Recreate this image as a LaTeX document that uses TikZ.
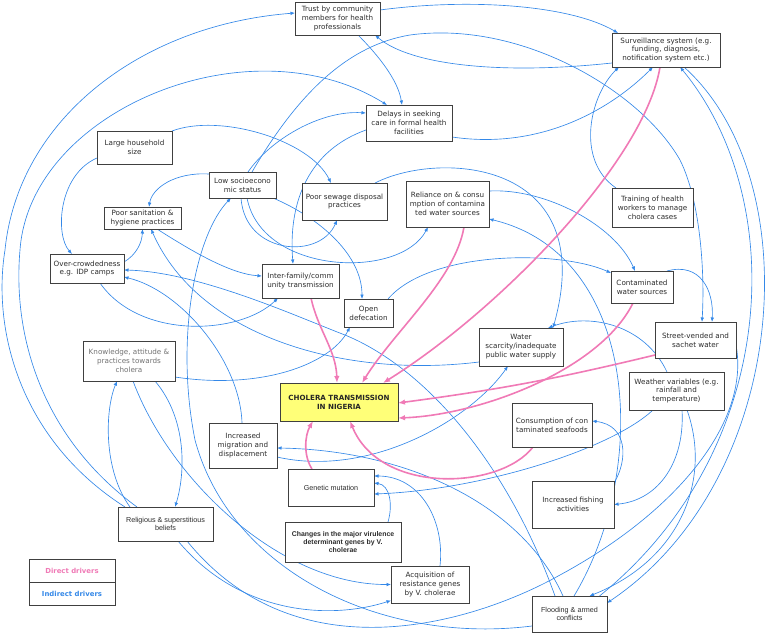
\documentclass[tikz,border=0pt]{standalone}
\usepackage{fontspec}
\newfontfamily\dvs{DejaVu Sans}
\newfontfamily\lbs{Liberation Sans}
\usetikzlibrary{arrows.meta}
\definecolor{bluec}{RGB}{52,136,232}
\definecolor{pinkc}{RGB}{240,122,182}
\definecolor{yel}{RGB}{255,255,120}
\definecolor{txt}{RGB}{45,45,45}
\pgfdeclarelayer{bg}
\pgfsetlayers{bg,main}
\tikzset{
 box/.style={draw=black!75, line width=0.9pt, fill=white, text=txt, align=center, inner sep=0pt, outer sep=0pt, font=\dvs\fontsize{7.2}{8.9}\selectfont},
 abox/.style={box, font=\lbs\fontsize{7.2}{8.6}\selectfont},
 ind/.style={draw=bluec, line width=0.65pt, -{Latex[length=4.5pt,width=3.6pt]}},
 indn/.style={draw=bluec, line width=0.65pt},
 dir/.style={draw=pinkc, line width=1.6pt, -{Latex[length=7pt,width=5.5pt]}},
}
\begin{document}
\begin{tikzpicture}[x=1pt,y=-1pt]
\useasboundingbox (0,0) rectangle (778,639);
% nodes
\node[box,minimum width=85,minimum height=33] (trust) at (337.5,18.5) {Trust by community\\members for health\\professionals};
\node[box,minimum width=108,minimum height=34] (surv) at (666,50) {Surveillance system (e.g.\\funding, diagnosis,\\notification system etc.)};
\node[box,minimum width=86,minimum height=36] (delays) at (409,123) {Delays in seeking\\care in formal health\\facilities};
\node[box,minimum width=75,minimum height=33] (large) at (134.5,147.5) {Large household\\size};
\node[box,minimum width=67,minimum height=26] (lowses) at (242.5,185) {Low socioecono\\mic status};
\node[box,minimum width=85,minimum height=37] (sewage) at (344.5,201.5) {Poor sewage disposal\\practices};
\node[box,minimum width=83,minimum height=46] (reliance) at (447.5,204) {Reliance on \& consu\\mption of contamina\\ted water sources};
\node[box,minimum width=81,minimum height=39] (training) at (652.5,207.5) {Training of health\\workers to manage\\cholera cases};
\node[box,minimum width=77,minimum height=22] (sanit) at (142.5,218) {Poor sanitation \&\\hygiene practices};
\node[box,minimum width=74,minimum height=29] (overc) at (87,268.5) {Over-crowdedness\\e.g. IDP camps};
\node[box,minimum width=77,minimum height=34] (interf) at (300.5,281) {Inter-family/comm\\unity transmission};
\node[box,minimum width=62,minimum height=32] (contam) at (642,287) {Contaminated\\water sources};
\node[box,minimum width=49,minimum height=28] (opend) at (368.5,313) {Open\\defecation};
\node[box,minimum width=81,minimum height=36] (street) at (695.5,340) {Street-vended and\\sachet water};
\node[box,minimum width=84,minimum height=38] (water) at (521,347) {Water\\scarcity/inadequate\\public water supply};
\node[box,minimum width=92,minimum height=40,text=black!55] (know) at (129,361) {Knowledge, attitude \&\\practices towards\\cholera};
\node[box,minimum width=118,minimum height=38,fill=yel,font=\dvs\bfseries\fontsize{7.1}{9}\selectfont,text=black!85] (chol) at (339,402) {CHOLERA TRANSMISSION\\IN NIGERIA};
\node[box,minimum width=95,minimum height=38] (weather) at (676.5,391) {Weather variables (e.g.\\rainfall and\\temperature)};
\node[box,minimum width=80,minimum height=44] (seaf) at (552,425) {Consumption of con\\taminated seafoods};
\node[box,minimum width=68,minimum height=45] (migr) at (243,445.5) {Increased\\migration and\\displacement};
\node[abox,minimum width=86,minimum height=37] (genet) at (331,487.5) {Genetic mutation};
\node[box,minimum width=82,minimum height=47] (fish) at (573,504.5) {Increased fishing\\activities};
\node[abox,minimum width=95,minimum height=34] (relig) at (165.5,524) {Religious \& superstitious\\beliefs};
\node[abox,minimum width=116,minimum height=40,font=\lbs\bfseries\fontsize{6.9}{8.4}\selectfont] (changes) at (343,542) {Changes in the major virulence\\determinant genes by V.\\cholerae};
\node[box,minimum width=78,minimum height=37] (acq) at (430,584.5) {Acquisition of\\resistance genes\\by V. cholerae};
\node[abox,minimum width=75,minimum height=36] (flood) at (569.5,614) {Flooding \& armed\\conflicts};
\node[box,minimum width=86,minimum height=23,text=pinkc,font=\dvs\bfseries\fontsize{6.9}{8}\selectfont] (leg1) at (72,570.5) {Direct drivers};
\node[box,minimum width=86,minimum height=23,text=bluec,font=\dvs\bfseries\fontsize{6.9}{8}\selectfont] (leg2) at (72,593.5) {Indirect drivers};

\begin{pgfonlayer}{bg}
% indirect drivers
\draw[ind] ([xshift=-40.5]relig.north) .. controls (20,440) and (-8,330) .. (5,250) .. controls (18,120) and (140,25) .. ([yshift=5.5]trust.west);
\draw[ind] ([xshift=-28.5]relig.north) .. controls (45,440) and (12,340) .. (20,250) .. controls (30,110) and (250,20) .. ([xshift=-22]delays.north);
\draw[ind] ([xshift=-35.5]relig.north) .. controls (103,470) and (105,410) .. ([xshift=-12]know.south);
\draw[ind] ([xshift=26]know.south) .. controls (188,420) and (185,475) .. ([xshift=9.5]relig.north);
\draw[ind] ([xshift=4]know.south) .. controls (170,480) and (280,585) .. (acq.west);
\draw[ind] ([yshift=-16]know.east) .. controls (260,390) and (330,365) .. ([xshift=-18.5]opend.south);
\draw[ind] ([xshift=12.5]relig.south) .. controls (240,615) and (330,620) .. ([yshift=-16]acq.west);
\draw[ind] ([yshift=-12]flood.west) .. controls (380,645) and (230,570) .. (195,440) .. controls (175,340) and (195,235) .. ([xshift=-11.5]lowses.south);
\draw[ind] ([xshift=14.5]sanit.south) .. controls (190,250) and (230,274) .. ([yshift=5]interf.west);
\draw[ind] ([yshift=6.5]overc.east) .. controls (136,255) and (142,243) .. (sanit.south);
\draw[ind] ([yshift=-10.5]large.west) .. controls (58,175) and (55,235) .. ([xshift=-15]overc.north);
\draw[ind] (large.north east) .. controls (220,113) and (310,140) .. ([xshift=-13.5]sewage.north);
\draw[ind] ([yshift=11]lowses.west) .. controls (175,172) and (152,188) .. ([xshift=6.5]sanit.north);
\draw[ind] ([xshift=-1.5]lowses.south) .. controls (245,255) and (320,260) .. ([xshift=-7.5]sewage.south);
\draw[ind] ([xshift=4.5]lowses.south) .. controls (262,275) and (400,280) .. ([xshift=-19.5]reliance.south);
\draw[ind] ([xshift=30.5]lowses.south) .. controls (320,218) and (362,255) .. ([xshift=-6.5]opend.north);
\draw[ind] ([xshift=5.5]lowses.north) .. controls (270,140) and (320,110) .. ([yshift=10]delays.west);
\draw[ind] ([xshift=9.5]lowses.north) .. controls (300,90) and (350,45) .. (410,35) .. controls (520,20) and (640,90) .. (680,160) .. controls (700,200) and (705,270) .. ([xshift=6.5]street.north);
\draw[ind] ([yshift=8.5]trust.east) .. controls (470,-2) and (570,5) .. ([xshift=-48]surv.north);
\draw[ind] ([yshift=-13]surv.west) .. controls (500,75) and (410,65) .. ([xshift=37.5]trust.south);
\draw[ind] ([xshift=20.5]trust.south) .. controls (378,55) and (398,80) .. ([xshift=-7]delays.north);
\draw[ind] ([yshift=-14]delays.east) .. controls (540,150) and (610,110) .. ([xshift=-13]surv.south);
\draw[ind] ([xshift=-36.5]training.north) .. controls (575,160) and (590,95) .. ([xshift=-47]surv.south);
\draw[ind] ([yshift=-7]delays.west) .. controls (310,150) and (288,200) .. ([xshift=-7.5]interf.north);
\draw[ind] ([xshift=25]contam.north) .. controls (700,262) and (714,290) .. ([xshift=16.5]street.north);
\draw[ind] ([xshift=4.5]flood.north) .. controls (650,470) and (640,255) .. ([yshift=-15]reliance.east);
\draw[ind] ([yshift=13]reliance.east) .. controls (545,188) and (615,225) .. ([xshift=-7]contam.north);
\draw[ind] ([xshift=-9.5]weather.north) .. controls (645,325) and (590,312) .. ([xshift=27]water.north);
\draw[ind] ([xshift=30.5]sewage.north) .. controls (440,150) and (600,160) .. ([xshift=32]water.north);
\draw[ind] ([xshift=30]flood.north) .. controls (780,450) and (790,200) .. ([xshift=14]surv.south);
\draw[ind] ([xshift=18]surv.south) .. controls (810,180) and (790,480) .. ([yshift=11]flood.east);
\draw[ind] ([xshift=5.5]weather.south) .. controls (685,460) and (660,500) .. (fish.east);
\draw[ind] ([xshift=10.5]weather.south) .. controls (712,480) and (680,560) .. ([xshift=20]flood.north);
\draw[ind] ([yshift=21.5]fish.east) .. controls (628,460) and (628,425) .. ([yshift=4]seaf.east);
\draw[ind] ([xshift=-23.5]weather.south) .. controls (610,450) and (480,490) .. ([yshift=-6.5]genet.east);
\draw[ind] ([xshift=10]acq.north) .. controls (445,520) and (420,476) .. ([yshift=11.5]genet.east);
\draw[ind] ([xshift=45]changes.north) .. controls (393,505) and (390,485) .. ([yshift=4.5]genet.east);
\draw[ind] ([xshift=-6.5]flood.north) .. controls (520,500) and (400,450) .. ([yshift=-2.5]migr.east);
\draw[ind] ([yshift=-11.5]migr.east) .. controls (370,478) and (470,420) .. ([xshift=-13]water.south);
\draw[ind] ([xshift=-1]migr.north) .. controls (240,360) and (180,290) .. ([yshift=-8.5]overc.east);
\draw[ind] ([yshift=-15]water.west) .. controls (350,378) and (200,340) .. ([xshift=8.5]sanit.south);
\draw[ind] ([xshift=-14.5]flood.north) .. controls (510,470) and (430,370) .. (345,335) .. controls (300,318) and (200,272) .. ([yshift=-1.5]overc.east);
\draw[ind] ([xshift=19.5]opend.north) .. controls (430,250) and (560,250) .. ([yshift=14]contam.west);
\draw[ind] ([xshift=13]overc.south) .. controls (140,340) and (240,335) .. ([xshift=-22.5]interf.south);
\draw[indn] ([xshift=21.5]relig.south) .. controls (300,680) and (480,620) .. (560,575) .. controls (680,510) and (750,420) .. ([yshift=-5]street.east);
% direct drivers
\draw[dir] ([xshift=10.5]interf.south) .. controls (318,330) and (336,350) .. ([xshift=-2]chol.north);
\draw[dir] ([xshift=16.5]reliance.south) .. controls (455,280) and (395,330) .. ([xshift=23]chol.north);
\draw[dir] ([xshift=-6]surv.south) .. controls (645,160) and (500,310) .. ([xshift=44]chol.north);
\draw[dir] ([xshift=-9]contam.south) .. controls (600,370) and (480,415) .. ([yshift=-16]chol.east);
\draw[dir] ([yshift=-15]street.west) to[bend left=3] ([yshift=-1]chol.east);
\draw[dir] ([xshift=-19]seaf.south) .. controls (500,490) and (380,495) .. ([xshift=11]chol.south);
\draw[dir] ([xshift=-19]genet.north) .. controls (303,455) and (305,435) .. ([xshift=-26]chol.south);
\end{pgfonlayer}
\end{tikzpicture}
\end{document}
